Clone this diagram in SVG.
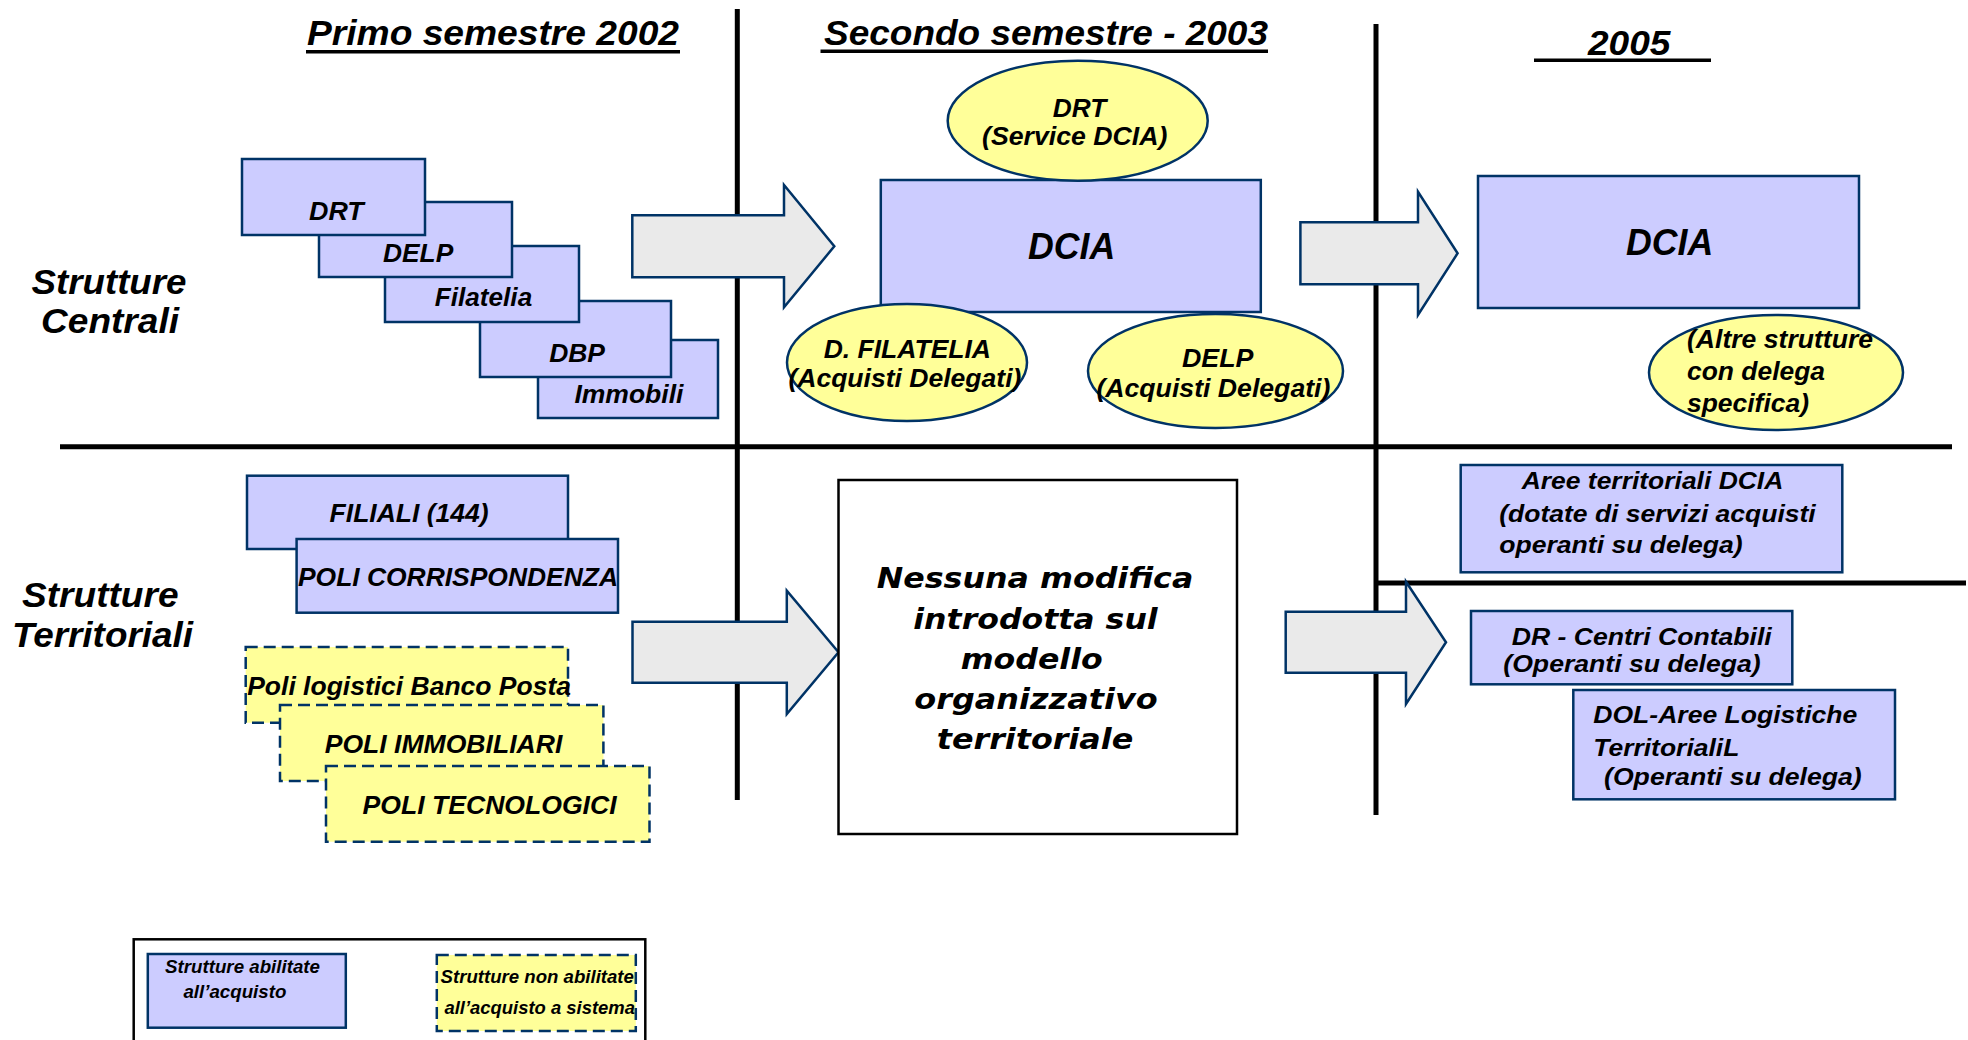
<svg xmlns="http://www.w3.org/2000/svg" width="1968" height="1040" viewBox="0 0 1968 1040">
<style>
.t{font-family:"Liberation Sans",Arial,sans-serif;font-weight:bold;font-style:italic;fill:#000}
.v{font-family:"DejaVu Sans",Verdana,sans-serif;font-weight:bold;font-style:italic;fill:#000}
.box{fill:#CCCCFF;stroke:#003366;stroke-width:2.5}
.ybox{fill:#FFFF99;stroke:#003366;stroke-width:2.5;stroke-dasharray:12 6}
.ell{fill:#FFFF99;stroke:#003366;stroke-width:2.5}
.arr{fill:#EAEAEA;stroke:#003366;stroke-width:2.5;stroke-linejoin:miter}
.div{stroke:#000;stroke-width:5;fill:none}
.ul{fill:#000}
.s26{font-size:26px}
.s24{font-size:24px}
.s35{font-size:35px}
.s36{font-size:36px}
.s18{font-size:17.5px}
</style>
<rect width="1968" height="1040" fill="#fff"/>

<g id="grid">
<line class="div" x1="737.3" y1="9" x2="737.3" y2="800"/>
<line class="div" x1="1376" y1="24" x2="1376" y2="815"/>
<line class="div" x1="60" y1="446.7" x2="1952" y2="446.7"/>
<line class="div" x1="1376" y1="583" x2="1966" y2="583"/>
</g>

<g id="headers">
<text class="t s35" x="307" y="44.5" textLength="372" lengthAdjust="spacingAndGlyphs">Primo semestre 2002</text>
<rect class="ul" x="306" y="50" width="374" height="3.5"/>
<text class="t s35" x="824" y="45" textLength="444" lengthAdjust="spacingAndGlyphs">Secondo semestre - 2003</text>
<rect class="ul" x="820.5" y="49.5" width="447.5" height="3.5"/>
<text class="t s35" x="1588" y="55" textLength="82.5" lengthAdjust="spacingAndGlyphs">2005</text>
<rect class="ul" x="1534" y="58.5" width="177" height="3.5"/>
<text class="t s35" x="31.5" y="294" textLength="155" lengthAdjust="spacingAndGlyphs">Strutture</text>
<text class="t s35" x="41" y="333" textLength="138" lengthAdjust="spacingAndGlyphs">Centrali</text>
<text class="t s35" x="22" y="606.7" textLength="156.5" lengthAdjust="spacingAndGlyphs">Strutture</text>
<text class="t s35" x="12" y="646.7" textLength="181" lengthAdjust="spacingAndGlyphs">Territoriali</text>
</g>

<g id="connectors">
<path id="arrow1" class="arr" d="M632.3,215.3 H784 V185 L834.3,246.3 L784,307.3 V277.3 H632.3 Z"/>
<path id="arrow2" class="arr" d="M1300.4,222.3 H1418 V191.7 L1457.6,253.3 L1418,315 V284.3 H1300.4 Z"/>
<path id="arrow3" class="arr" d="M632.5,621.7 H786.8 V590.7 L838.5,652.2 L786.8,714 V682.7 H632.5 Z"/>
<path id="arrow4" class="arr" d="M1285.7,611.7 H1406 V581.7 L1446,642.2 L1406,704 V672.7 H1285.7 Z"/>
</g>

<g id="immobili"><rect class="box" x="538" y="340" width="180" height="78"/><text class="t s26" x="574.4" y="403.3" textLength="109" lengthAdjust="spacingAndGlyphs">Immobili</text></g>
<g id="dbp"><rect class="box" x="480" y="301" width="191" height="76"/><text class="t s26" x="549.2" y="361.7" textLength="55.8" lengthAdjust="spacingAndGlyphs">DBP</text></g>
<g id="filatelia"><rect class="box" x="385" y="246" width="194" height="76"/><text class="t s26" x="434.8" y="306" textLength="97.4" lengthAdjust="spacingAndGlyphs">Filatelia</text></g>
<g id="delp"><rect class="box" x="319" y="202" width="193" height="75"/><text class="t s26" x="383" y="262.3" textLength="70.2" lengthAdjust="spacingAndGlyphs">DELP</text></g>
<g id="drt"><rect class="box" x="242" y="159" width="183" height="76"/><text class="t s26" x="309" y="220" textLength="54.7" lengthAdjust="spacingAndGlyphs">DRT</text></g>

<g id="dcia2003"><rect class="box" x="880.8" y="180" width="380" height="132"/><text class="t s36" x="1028" y="259.3" textLength="87.2" lengthAdjust="spacingAndGlyphs">DCIA</text></g>
<g id="drt-service"><ellipse class="ell" cx="1077.7" cy="120.7" rx="130" ry="60"/>
<text class="t s26" x="1052.7" y="116.7" textLength="53.5" lengthAdjust="spacingAndGlyphs">DRT</text>
<text class="t s26" x="982" y="145" textLength="185.4" lengthAdjust="spacingAndGlyphs">(Service DCIA)</text></g>
<g id="d-filatelia"><ellipse class="ell" cx="907" cy="362.5" rx="120" ry="58.5"/>
<text class="t s26" x="823.7" y="357.7" textLength="167.3" lengthAdjust="spacingAndGlyphs">D. FILATELIA</text>
<text class="t s26" x="788.4" y="386.7" textLength="233" lengthAdjust="spacingAndGlyphs">(Acquisti Delegati)</text></g>
<g id="delp-deleg"><ellipse class="ell" cx="1215.5" cy="371" rx="127.5" ry="57"/>
<text class="t s26" x="1182" y="366.7" textLength="71.5" lengthAdjust="spacingAndGlyphs">DELP</text>
<text class="t s26" x="1096.4" y="396.7" textLength="234" lengthAdjust="spacingAndGlyphs">(Acquisti Delegati)</text></g>

<g id="dcia2005"><rect class="box" x="1478" y="176" width="381" height="132"/><text class="t s36" x="1626" y="255" textLength="87.2" lengthAdjust="spacingAndGlyphs">DCIA</text></g>
<g id="altre"><ellipse class="ell" cx="1776" cy="372.5" rx="127" ry="57.5"/>
<text class="t s26" x="1687" y="348.3" textLength="186" lengthAdjust="spacingAndGlyphs">(Altre strutture</text>
<text class="t s26" x="1687" y="380" textLength="138" lengthAdjust="spacingAndGlyphs">con delega</text>
<text class="t s26" x="1687" y="411.7" textLength="122" lengthAdjust="spacingAndGlyphs">specifica)</text></g>

<g id="filiali"><rect class="box" x="247" y="475.7" width="321" height="73.3"/><text class="t s26" x="329.6" y="521.7" textLength="159" lengthAdjust="spacingAndGlyphs">FILIALI (144)</text></g>
<g id="poli-corr"><rect class="box" x="296.6" y="539" width="321.4" height="73.7"/><text class="t s26" x="298" y="586" textLength="320" lengthAdjust="spacingAndGlyphs">POLI CORRISPONDENZA</text></g>
<g id="poli-log"><rect class="ybox" x="245.7" y="647" width="322.3" height="75.7"/><text class="t s26" x="247.2" y="695" textLength="323.8" lengthAdjust="spacingAndGlyphs">Poli logistici Banco Posta</text></g>
<g id="poli-imm"><rect class="ybox" x="280" y="705" width="323.4" height="76"/><text class="t s26" x="324.7" y="753.3" textLength="237.6" lengthAdjust="spacingAndGlyphs">POLI IMMOBILIARI</text></g>
<g id="poli-tec"><rect class="ybox" x="326" y="766" width="323.5" height="75.7"/><text class="t s26" x="362.6" y="814" textLength="254" lengthAdjust="spacingAndGlyphs">POLI TECNOLOGICI</text></g>

<g id="nessuna"><rect x="838.5" y="480" width="398.5" height="354" fill="#fff" stroke="#000" stroke-width="2.5"/>
<text class="v" font-size="29" x="876.7" y="588.3" textLength="316.6" lengthAdjust="spacingAndGlyphs">Nessuna modifica</text>
<text class="v" font-size="29" x="913.3" y="629" textLength="244.4" lengthAdjust="spacingAndGlyphs">introdotta sul</text>
<text class="v" font-size="29" x="960.7" y="669.3" textLength="142" lengthAdjust="spacingAndGlyphs">modello</text>
<text class="v" font-size="29" x="914.3" y="709" textLength="243.4" lengthAdjust="spacingAndGlyphs">organizzativo</text>
<text class="v" font-size="29" x="936.7" y="749" textLength="196.6" lengthAdjust="spacingAndGlyphs">territoriale</text></g>

<g id="aree"><rect class="box" x="1460.7" y="465" width="381.6" height="107.3"/>
<text class="t s24" x="1521.7" y="489.3" textLength="261.6" lengthAdjust="spacingAndGlyphs">Aree territoriali DCIA</text>
<text class="t s24" x="1499.3" y="521.7" textLength="316.4" lengthAdjust="spacingAndGlyphs">(dotate di servizi acquisti</text>
<text class="t s24" x="1499.3" y="552.7" textLength="243.4" lengthAdjust="spacingAndGlyphs">operanti su delega)</text></g>
<g id="dr"><rect class="box" x="1471" y="611" width="321.3" height="73.3"/>
<text class="t s24" x="1511.7" y="645" textLength="260" lengthAdjust="spacingAndGlyphs">DR - Centri Contabili</text>
<text class="t s24" x="1503.3" y="671.7" textLength="257.4" lengthAdjust="spacingAndGlyphs">(Operanti su delega)</text></g>
<g id="dol"><rect class="box" x="1573.3" y="690" width="321.7" height="109.3"/>
<text class="t s24" x="1593.3" y="723.3" textLength="264" lengthAdjust="spacingAndGlyphs">DOL-Aree Logistiche</text>
<text class="t s24" x="1593.3" y="756" textLength="146" lengthAdjust="spacingAndGlyphs">TerritorialiL</text>
<text class="t s24" x="1604" y="785" textLength="257.7" lengthAdjust="spacingAndGlyphs">(Operanti su delega)</text></g>

<g id="legend"><rect x="133.7" y="939.3" width="511.6" height="130" fill="#fff" stroke="#000" stroke-width="2.5"/>
<rect class="box" x="147.8" y="954" width="198" height="73.7"/>
<text class="t s18" x="165" y="972.7" textLength="155" lengthAdjust="spacingAndGlyphs">Strutture abilitate</text>
<text class="t s18" x="183.4" y="998.3" textLength="103" lengthAdjust="spacingAndGlyphs">all’acquisto</text>
<rect class="ybox" x="436.8" y="955" width="199" height="76"/>
<text class="t s18" x="440.6" y="982.7" textLength="193.3" lengthAdjust="spacingAndGlyphs">Strutture non abilitate</text>
<text class="t s18" x="444.4" y="1014.3" textLength="190.6" lengthAdjust="spacingAndGlyphs">all’acquisto a sistema</text></g>
</svg>
